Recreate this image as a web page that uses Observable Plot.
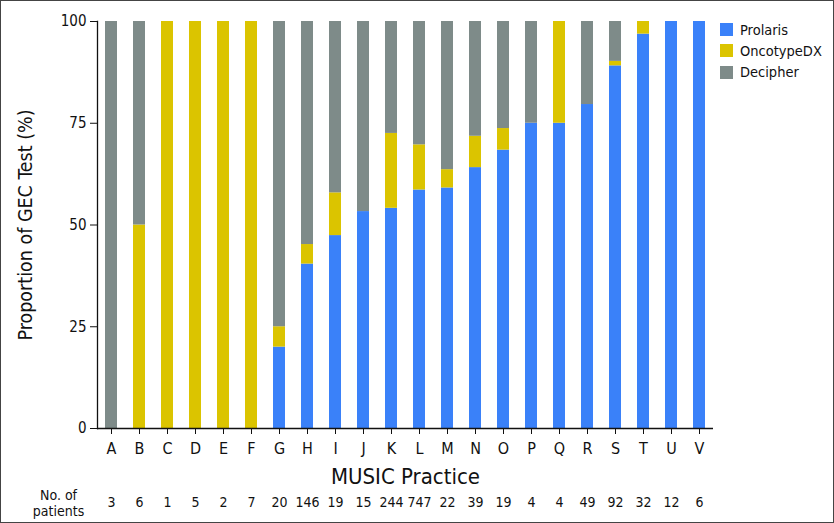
<!DOCTYPE html>
<html>
<head>
<meta charset="utf-8">
<script src="https://cdn.jsdelivr.net/npm/d3@7"></script>
<script src="https://cdn.jsdelivr.net/npm/@observablehq/plot@0.6"></script>
<style>
  html, body { margin: 0; padding: 0; background: #fff; }
  #wrap { position: relative; width: 834px; height: 523px; }
  #wrap svg { display: block; }
  #border { position: absolute; left: 0; top: 0; width: 832px; height: 521px; border: 1px solid #444; pointer-events: none; }
  #legend { position: absolute; left: 720px; top: 19px; font-family: "DejaVu Sans Condensed", "DejaVu Sans", sans-serif; font-size: 14.5px; color: #111; }
  #legend .item { display: flex; align-items: center; height: 21.3px; }
  #legend .sw { width: 13px; height: 13px; margin-right: 7px; }
</style>
</head>
<body>
<div id="wrap"><div id="border"></div><div id="legend"></div></div>
<script>
const practices = ["A","B","C","D","E","F","G","H","I","J","K","L","M","N","O","P","Q","R","S","T","U","V"];
const patients  = [3,6,1,5,2,7,20,146,19,15,244,747,22,39,19,4,4,49,92,32,12,6];
const prolaris  = [0,0,0,0,0,0,20,40.4,47.4,53.3,54.1,58.6,59.1,64.1,68.4,75,75,79.6,89.1,96.9,100,100];
const oncotype  = [0,50,100,100,100,100,5,4.8,10.5,0,18.4,11.1,4.5,7.7,5.3,0,25,0,1.1,3.1,0,0];
const decipher  = [100,50,0,0,0,0,75,54.8,42.1,46.7,27.5,30.3,36.4,28.2,26.3,25,0,20.4,9.8,0,0,0];
const tests = ["Prolaris","OncotypeDX","Decipher"];
const colors = ["#3a81f9","#dbc400","#7e8b89"];
const yTicks = [0,25,50,75,100];

const series = [prolaris, oncotype, decipher];
const rows = [];
practices.forEach((p, i) => {
  tests.forEach((t, j) => rows.push({practice: p, test: t, value: series[j][i]}));
});
const countRows = practices.map((p, i) => ({practice: p, n: patients[i]}));

const font = "'DejaVu Sans Condensed', 'DejaVu Sans', sans-serif";

const chart = Plot.plot({
  width: 834,
  height: 523,
  marginLeft: 97,
  marginRight: 121,
  marginTop: 21,
  marginBottom: 95,
  style: {fontFamily: font, color: "#111", background: "transparent"},
  x: {domain: practices, paddingInner: 0.57, paddingOuter: 0.25, label: null},
  y: {domain: [0, 100], label: null},
  color: {domain: tests, range: colors},
  marks: [
    Plot.barY(rows, {x: "practice", y: "value", fill: "test", order: tests}),
    Plot.frame({anchor: "left", stroke: "#111", strokeWidth: 1.3}),
    Plot.ruleY([0], {stroke: "#111", strokeWidth: 1.3}),
    Plot.axisY({ticks: yTicks, tickSize: 7, tickPadding: 4, fontSize: 15, label: null}),
    Plot.axisX({tickSize: 6, tickPadding: 8, fontSize: 16, label: null}),
    Plot.text(["MUSIC Practice"], {frameAnchor: "bottom", lineAnchor: "middle", dy: 48, fontSize: 22, fill: "#111"}),
    Plot.text(["Proportion of GEC Test (%)"], {frameAnchor: "left", textAnchor: "middle", lineAnchor: "middle", rotate: -90, dx: -72, fontSize: 19.5, fill: "#111"}),
    Plot.text(countRows, {x: "practice", text: "n", frameAnchor: "bottom", lineAnchor: "middle", dy: 74, fontSize: 14, fill: "#111"}),
    Plot.text(["No. of\npatients"], {frameAnchor: "bottom-left", textAnchor: "middle", lineAnchor: "middle", dx: -39, dy: 74, fontSize: 14, lineHeight: 1.15, fill: "#111"})
  ]
});
document.getElementById("wrap").prepend(chart);

const legend = document.getElementById("legend");
tests.forEach((t, j) => {
  const item = document.createElement("div");
  item.className = "item";
  item.innerHTML = `<div class="sw" style="background:${colors[j]}"></div><span>${t}</span>`;
  legend.appendChild(item);
});
</script>
</body>
</html>
